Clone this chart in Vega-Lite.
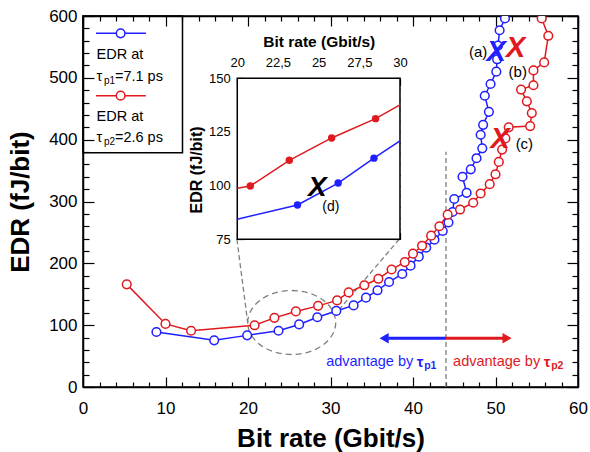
{
  "$schema": "https://vega.github.io/schema/vega-lite/v6.json",
  "width": 495,
  "height": 371,
  "autosize": "none",
  "padding": {"left": 83, "top": 16, "right": 12, "bottom": 65},
  "config": {
    "font": "Liberation Sans",
    "view": {"stroke": "black", "strokeWidth": 1.5},
    "axis": {"domainColor": "black", "domainWidth": 1.5, "tickColor": "black", "tickWidth": 1.2, "labelColor": "black", "titleColor": "black", "grid": false, "labelFlush": false, "labelOverlap": false, "labelFont": "Liberation Sans", "titleFont": "Liberation Sans", "zindex": 1},
    "text": {"font": "Liberation Sans"}
  },
  "datasets": {
    "blue": [
      {"i":1,"x":8.9,"y":89},{"i":2,"x":15.9,"y":75.5},{"i":3,"x":19.9,"y":83.5},{"i":4,"x":23.7,"y":91},{"i":5,"x":26.2,"y":101.2},{"i":6,"x":28.4,"y":112.8},{"i":7,"x":30.7,"y":123},{"i":8,"x":32.8,"y":132},{"i":9,"x":34.3,"y":144.5},{"i":10,"x":35.7,"y":156.4},{"i":11,"x":37.1,"y":169.8},{"i":12,"x":38.7,"y":182.8},{"i":13,"x":39.7,"y":196.2},{"i":14,"x":40.7,"y":210.8},{"i":15,"x":41.6,"y":225.3},{"i":16,"x":42.6,"y":238.2},{"i":17,"x":43.6,"y":252.3},{"i":18,"x":44.3,"y":266},{"i":19,"x":44.8,"y":283},{"i":20,"x":45.0,"y":304},{"i":21,"x":46.5,"y":314},{"i":22,"x":46.0,"y":340},{"i":23,"x":47.0,"y":352},{"i":24,"x":47.7,"y":370},{"i":25,"x":48.4,"y":386},{"i":26,"x":48.2,"y":408},{"i":27,"x":48.5,"y":424},{"i":28,"x":49.2,"y":445},{"i":29,"x":48.7,"y":471},{"i":30,"x":49.4,"y":490},{"i":31,"x":50.1,"y":510},{"i":32,"x":50.2,"y":530},{"i":33,"x":50.3,"y":552},{"i":34,"x":50.5,"y":577},{"i":35,"x":51.15,"y":596},{"i":36,"x":51.6,"y":615}
    ],
    "red": [
      {"i":1,"x":5.3,"y":166},{"i":2,"x":10.0,"y":102},{"i":3,"x":13.1,"y":91},{"i":4,"x":20.8,"y":99.8},{"i":5,"x":23.2,"y":111.8},{"i":6,"x":25.8,"y":122.2},{"i":7,"x":28.5,"y":131.2},{"i":8,"x":30.8,"y":140},{"i":9,"x":32.2,"y":153},{"i":10,"x":34.1,"y":164.5},{"i":11,"x":35.8,"y":175},{"i":12,"x":37.4,"y":190},{"i":13,"x":39.0,"y":202},{"i":14,"x":40.0,"y":215.6},{"i":15,"x":41.1,"y":228.5},{"i":16,"x":42.2,"y":244.7},{"i":17,"x":43.2,"y":260},{"i":18,"x":44.2,"y":278.7},{"i":19,"x":45.7,"y":287},{"i":20,"x":47.3,"y":298},{"i":21,"x":48.2,"y":313},{"i":22,"x":49.3,"y":328},{"i":23,"x":50.0,"y":344},{"i":24,"x":50.4,"y":364},{"i":25,"x":50.8,"y":384},{"i":26,"x":51.2,"y":402},{"i":27,"x":51.6,"y":420},{"i":28,"x":54.2,"y":422},{"i":29,"x":54.4,"y":443},{"i":30,"x":53.8,"y":462},{"i":31,"x":53.1,"y":481},{"i":32,"x":54.6,"y":488},{"i":33,"x":54.6,"y":512},{"i":34,"x":55.9,"y":525},{"i":35,"x":56.4,"y":568},{"i":36,"x":55.6,"y":596},{"i":37,"x":55.4,"y":615}
    ],
    "insetRed": [
      {"i":1,"x":20,"y":98.8},{"i":2,"x":20.8,"y":99.8},{"i":3,"x":23.2,"y":111.8},{"i":4,"x":25.8,"y":122.2},{"i":5,"x":28.5,"y":131.2},{"i":6,"x":30,"y":137.6}
    ],
    "insetBlue": [
      {"i":1,"x":20,"y":84.3},{"i":2,"x":23.7,"y":91},{"i":3,"x":26.2,"y":101.2},{"i":4,"x":28.4,"y":112.8},{"i":5,"x":30,"y":120.8}
    ]
  },
  "layer": [
    {
      "encoding": {
        "x": {"field": "x", "type": "quantitative", "scale": {"domain": [0, 60], "nice": false, "zero": false}, "axis": null},
        "y": {"field": "y", "type": "quantitative", "scale": {"domain": [0, 600], "nice": false, "zero": false}, "axis": null}
      },
      "layer": [
        {
          "data": {"values": [{"x": 18.66, "y": 238.9, "x2": 20.0, "y2": 100.3}, {"x": 38.33, "y": 238.9, "x2": 30.7, "y2": 119.7}]},
          "mark": {"type": "rule", "color": "#7f7f7f", "strokeDash": [5, 3], "strokeWidth": 1.3},
          "encoding": {"x2": {"field": "x2"}, "y2": {"field": "y2"}}
        },
        {
          "data": {"values": [{"x": 44, "y": 0, "y2": 380.6}]},
          "mark": {"type": "rule", "color": "#7f7f7f", "strokeDash": [5, 3], "strokeWidth": 1.3},
          "encoding": {"y2": {"field": "y2"}}
        },
        {
          "data": {"values": [{"x": 25.3, "y": 104.3}]},
          "mark": {"type": "point", "shape": "M-1,0A1,0.727,0,1,1,1,0A1,0.727,0,1,1,-1,0Z", "size": 7744, "filled": false, "stroke": "#7f7f7f", "strokeDash": [6, 4], "strokeWidth": 1.3, "opacity": 1},
          "encoding": {}
        },
        {
          "data": {"values": [{"x": 0, "x2": 12.06, "y": 379, "y2": 600}]},
          "mark": {"type": "rect", "fill": null, "fillOpacity": 0, "stroke": "black", "strokeWidth": 1.5},
          "encoding": {"x2": {"field": "x2"}, "y2": {"field": "y2"}}
        },
        {
          "data": {"values": [{"x": 1.57, "x2": 7.62, "y": 572, "s": "p1"}, {"x": 1.57, "x2": 7.62, "y": 471.1, "s": "p2"}]},
          "mark": {"type": "rule", "strokeWidth": 1.5},
          "encoding": {"x2": {"field": "x2"}, "color": {"field": "s", "type": "nominal", "scale": {"domain": ["p1", "p2"], "range": ["#1f1fff", "#e0191e"]}, "legend": null}}
        },
        {
          "data": {"values": [{"x": 4.56, "y": 572, "s": "p1"}, {"x": 4.56, "y": 471.1, "s": "p2"}]},
          "mark": {"type": "point", "shape": "circle", "size": 75, "filled": false, "fill": "white", "fillOpacity": 1, "strokeWidth": 1.5, "opacity": 1},
          "encoding": {"stroke": {"field": "s", "type": "nominal", "scale": {"domain": ["p1", "p2"], "range": ["#1f1fff", "#e0191e"]}, "legend": null}}
        },
        {
          "data": {"name": "blue"},
          "mark": {"type": "line", "color": "#1f1fff", "strokeWidth": 1.5, "clip": true},
          "encoding": {
            "x": {"field": "x", "type": "quantitative", "scale": {"domain": [0, 60], "nice": false, "zero": false},
              "axis": {"orient": "bottom", "values": [0,2,4,6,8,10,12,14,16,18,20,22,24,26,28,30,32,34,36,38,40,42,44,46,48,50,52,54,56,58,60],
                "tickSize": {"condition": {"test": "datum.value % 10 === 0", "value": -10}, "value": -5},
                "labelExpr": "datum.value % 10 === 0 ? datum.label : ''", "labelFontSize": 17, "labelPadding": 23,
                "title": "Bit rate (Gbit/s)", "titleFontSize": 26, "titleFontWeight": "bold", "titlePadding": 4}},
            "y": {"field": "y", "type": "quantitative", "scale": {"domain": [0, 600], "nice": false, "zero": false},
              "axis": {"orient": "left", "values": [0,20,40,60,80,100,120,140,160,180,200,220,240,260,280,300,320,340,360,380,400,420,440,460,480,500,520,540,560,580,600],
                "tickSize": {"condition": {"test": "datum.value % 100 === 0", "value": -11}, "value": -6},
                "labelExpr": "datum.value % 100 === 0 ? datum.label : ''", "labelFontSize": 17, "labelPadding": 17,
                "title": "EDR (fJ/bit)", "titleFontSize": 26, "titleFontWeight": "bold", "titlePadding": 15}},
            "order": {"field": "i", "type": "quantitative"}
          }
        },
        {
          "data": {"name": "red"},
          "mark": {"type": "line", "color": "#e0191e", "strokeWidth": 1.5, "clip": true},
          "encoding": {
            "x": {"field": "x", "type": "quantitative", "scale": {"domain": [0, 60], "nice": false, "zero": false},
              "axis": {"orient": "top", "values": [0,2,4,6,8,10,12,14,16,18,20,22,24,26,28,30,32,34,36,38,40,42,44,46,48,50,52,54,56,58,60],
                "tickSize": {"condition": {"test": "datum.value % 10 === 0", "value": -10}, "value": -5},
                "labels": false, "title": null}},
            "y": {"field": "y", "type": "quantitative", "scale": {"domain": [0, 600], "nice": false, "zero": false},
              "axis": {"orient": "right", "values": [0,20,40,60,80,100,120,140,160,180,200,220,240,260,280,300,320,340,360,380,400,420,440,460,480,500,520,540,560,580,600],
                "tickSize": {"condition": {"test": "datum.value % 100 === 0", "value": -11}, "value": -6},
                "labels": false, "title": null}},
            "order": {"field": "i", "type": "quantitative"}
          }
        },
        {
          "data": {"name": "blue"},
          "mark": {"type": "point", "shape": "circle", "size": 75, "filled": false, "fill": "white", "fillOpacity": 1, "stroke": "#1f1fff", "strokeWidth": 1.5, "opacity": 1, "clip": true},
          "encoding": {}
        },
        {
          "data": {"name": "red"},
          "mark": {"type": "point", "shape": "circle", "size": 75, "filled": false, "fill": "white", "fillOpacity": 1, "stroke": "#e0191e", "strokeWidth": 1.5, "opacity": 1, "clip": true},
          "encoding": {}
        },
        {
          "data": {"values": [{"x": 44, "x2": 37.0, "y": 79, "s": "p1"}, {"x": 44, "x2": 51.0, "y": 79, "s": "p2"}]},
          "mark": {"type": "rule", "strokeWidth": 3},
          "encoding": {"x2": {"field": "x2"}, "color": {"field": "s", "type": "nominal", "scale": {"domain": ["p1", "p2"], "range": ["#1f1fff", "#e0191e"]}, "legend": null}}
        },
        {
          "data": {"values": [{"x": 36.5, "y": 79, "s": "p1"}, {"x": 51.4, "y": 79, "s": "p2"}]},
          "mark": {"type": "point", "filled": true, "size": 110, "opacity": 1},
          "encoding": {
            "color": {"field": "s", "type": "nominal", "scale": {"domain": ["p1", "p2"], "range": ["#1f1fff", "#e0191e"]}, "legend": null},
            "shape": {"field": "s", "type": "nominal", "scale": {"domain": ["p1", "p2"], "range": ["triangle-left", "triangle-right"]}, "legend": null}
          }
        },
        {
          "data": {"values": [{"x": 50.08, "y": 542.3, "s": "p1"}, {"x": 52.44, "y": 548, "s": "p2"}, {"x": 50.58, "y": 401.6, "s": "p2"}]},
          "mark": {"type": "text", "text": "X", "fontSize": 29, "fontWeight": "bold", "fontStyle": "italic", "align": "center", "baseline": "middle"},
          "encoding": {"color": {"field": "s", "type": "nominal", "scale": {"domain": ["p1", "p2"], "range": ["#1f1fff", "#e0191e"]}, "legend": null}}
        },
        {
          "data": {"values": [{"x": 47.9, "y": 542.3, "t": "(a)"}, {"x": 52.7, "y": 509, "t": "(b)"}, {"x": 53.5, "y": 393, "t": "(c)"}]},
          "mark": {"type": "text", "fontSize": 15, "align": "center", "baseline": "middle", "color": "black"},
          "encoding": {"text": {"field": "t"}}
        },
        {
          "data": {"values": [{"x": 1.65, "y": 537, "t": "EDR at"}, {"x": 1.65, "y": 436, "t": "EDR at"}, {"x": 1.65, "y": 500.6, "t": "τ"}, {"x": 1.65, "y": 402.2, "t": "τ"}, {"x": 3.87, "y": 500.6, "t": "=7.1 ps"}, {"x": 3.87, "y": 402.2, "t": "=2.6 ps"}]},
          "mark": {"type": "text", "fontSize": 14.5, "align": "left", "baseline": "middle", "color": "black"},
          "encoding": {"text": {"field": "t"}}
        },
        {
          "data": {"values": [{"x": 2.54, "y": 500.6, "t": "p1"}, {"x": 2.54, "y": 402.2, "t": "p2"}]},
          "mark": {"type": "text", "fontSize": 10, "align": "left", "baseline": "middle", "dy": 4, "color": "black"},
          "encoding": {"text": {"field": "t"}}
        },
        {
          "data": {"values": [{"x": 29.47, "y": 40.4, "s": "p1", "t": "advantage by"}, {"x": 44.86, "y": 40.4, "s": "p2", "t": "advantage by"}]},
          "mark": {"type": "text", "fontSize": 14.5, "align": "left", "baseline": "middle"},
          "encoding": {"text": {"field": "t"}, "color": {"field": "s", "type": "nominal", "scale": {"domain": ["p1", "p2"], "range": ["#1f1fff", "#e0191e"]}, "legend": null}}
        },
        {
          "data": {"values": [{"x": 40.45, "y": 40.4, "s": "p1", "t": "τ"}, {"x": 55.85, "y": 40.4, "s": "p2", "t": "τ"}]},
          "mark": {"type": "text", "fontSize": 15, "fontWeight": "bold", "align": "left", "baseline": "middle"},
          "encoding": {"text": {"field": "t"}, "color": {"field": "s", "type": "nominal", "scale": {"domain": ["p1", "p2"], "range": ["#1f1fff", "#e0191e"]}, "legend": null}}
        },
        {
          "data": {"values": [{"x": 41.35, "y": 40.4, "s": "p1", "t": "p1"}, {"x": 56.75, "y": 40.4, "s": "p2", "t": "p2"}]},
          "mark": {"type": "text", "fontSize": 10.5, "fontWeight": "bold", "align": "left", "baseline": "middle", "dy": 4},
          "encoding": {"text": {"field": "t"}, "color": {"field": "s", "type": "nominal", "scale": {"domain": ["p1", "p2"], "range": ["#1f1fff", "#e0191e"]}, "legend": null}}
        }
      ],
      "resolve": {"axis": {"x": "independent", "y": "independent"}}
    },
    {
      "encoding": {
        "x": {"field": "x", "type": "quantitative", "scale": {"domain": [10.52, 40.94], "nice": false, "zero": false}, "axis": null},
        "y": {"field": "y", "type": "quantitative", "scale": {"domain": [6.2, 179.0], "nice": false, "zero": false}, "axis": null}
      },
      "layer": [
        {
          "data": {"values": [{"x": 20, "x2": 30, "y": 75, "y2": 150}]},
          "mark": {"type": "rect", "fill": "white", "stroke": "black", "strokeWidth": 1.5},
          "encoding": {
            "x": {"field": "x", "type": "quantitative", "scale": {"domain": [10.52, 40.94], "nice": false, "zero": false},
              "axis": {"orient": "top", "offset": -62.26, "domain": false, "values": [20,20.5,21,21.5,22,22.5,23,23.5,24,24.5,25,25.5,26,26.5,27,27.5,28,28.5,29,29.5,30],
                "tickSize": {"condition": {"test": "datum.value % 2.5 === 0", "value": -7}, "value": -4},
                "labelExpr": "datum.value % 2.5 === 0 ? replace(format(datum.value, '~g'), '.', ',') : ''", "labelFontSize": 13, "labelPadding": 16, "title": null}},
            "y": {"field": "y", "type": "quantitative", "scale": {"domain": [6.2, 179.0], "nice": false, "zero": false},
              "axis": {"orient": "left", "offset": -154.26, "domain": false, "values": [75,80,85,90,95,100,105,110,115,120,125,130,135,140,145,150],
                "tickSize": {"condition": {"test": "datum.value % 25 === 0", "value": -7}, "value": -4},
                "labelExpr": "datum.value % 25 === 0 ? datum.label : ''", "labelFontSize": 13, "labelPadding": 14, "title": null}},
            "x2": {"field": "x2"}, "y2": {"field": "y2"}
          }
        },
        {
          "data": {"name": "insetRed"},
          "mark": {"type": "line", "color": "#e0191e", "strokeWidth": 1.5},
          "encoding": {
            "x": {"field": "x", "type": "quantitative", "scale": {"domain": [10.52, 40.94], "nice": false, "zero": false},
              "axis": {"orient": "bottom", "offset": -147.7, "domain": false, "values": [20,20.5,21,21.5,22,22.5,23,23.5,24,24.5,25,25.5,26,26.5,27,27.5,28,28.5,29,29.5,30],
                "tickSize": {"condition": {"test": "datum.value % 2.5 === 0", "value": -7}, "value": -4},
                "labels": false, "title": null}},
            "y": {"field": "y", "type": "quantitative", "scale": {"domain": [6.2, 179.0], "nice": false, "zero": false},
              "axis": {"orient": "right", "offset": -178.0, "domain": false, "values": [75,80,85,90,95,100,105,110,115,120,125,130,135,140,145,150],
                "tickSize": {"condition": {"test": "datum.value % 25 === 0", "value": -7}, "value": -4},
                "labels": false, "title": null}},
            "order": {"field": "i", "type": "quantitative"}
          }
        },
        {
          "data": {"name": "insetBlue"},
          "mark": {"type": "line", "color": "#1f1fff", "strokeWidth": 1.5},
          "encoding": {"order": {"field": "i", "type": "quantitative"}}
        },
        {
          "data": {"name": "insetRed"},
          "transform": [{"filter": "datum.x > 20 && datum.x < 30"}],
          "mark": {"type": "point", "shape": "circle", "size": 55, "filled": true, "color": "#e0191e", "opacity": 1},
          "encoding": {}
        },
        {
          "data": {"name": "insetBlue"},
          "transform": [{"filter": "datum.x > 20 && datum.x < 30"}],
          "mark": {"type": "point", "shape": "circle", "size": 55, "filled": true, "color": "#1f1fff", "opacity": 1},
          "encoding": {}
        },
        {
          "data": {"values": [{"x": 24.92, "y": 98.8}]},
          "mark": {"type": "text", "text": "X", "fontSize": 28, "fontWeight": "bold", "fontStyle": "italic", "align": "center", "baseline": "middle", "color": "black"},
          "encoding": {}
        },
        {
          "data": {"values": [{"x": 25.75, "y": 90.0, "t": "(d)"}]},
          "mark": {"type": "text", "fontSize": 14, "align": "center", "baseline": "middle", "color": "black"},
          "encoding": {"text": {"field": "t"}}
        },
        {
          "data": {"values": [{"x": 25.04, "y": 166.9, "t": "Bit rate (Gbit/s)"}]},
          "mark": {"type": "text", "fontSize": 15.5, "fontWeight": "bold", "align": "center", "baseline": "middle", "color": "black"},
          "encoding": {"text": {"field": "t"}}
        },
        {
          "data": {"values": [{"x": 17.5, "y": 107.3, "t": "EDR (fJ/bit)"}]},
          "mark": {"type": "text", "fontSize": 16, "fontWeight": "bold", "align": "center", "baseline": "middle", "angle": 270, "color": "black"},
          "encoding": {"text": {"field": "t"}}
        }
      ],
      "resolve": {"axis": {"x": "independent", "y": "independent"}}
    }
  ],
  "resolve": {"scale": {"x": "independent", "y": "independent"}}
}
